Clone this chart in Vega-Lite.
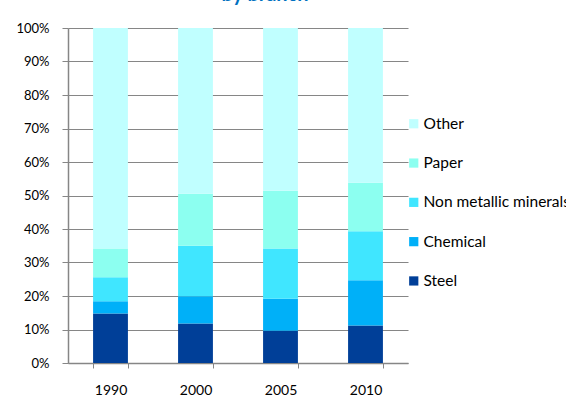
{
  "$schema": "https://vega.github.io/schema/vega-lite/v6.json",
  "width": 340,
  "height": 335,
  "autosize": {"type": "none"},
  "padding": {"left": 68, "top": 28, "right": 158, "bottom": 47},
  "background": "white",
  "title": {
    "text": "by branch",
    "font": "Lato",
    "fontSize": 20,
    "fontWeight": "bold",
    "color": "#0070C0",
    "anchor": "middle",
    "dx": 27,
    "offset": 17
  },
  "data": {
    "values": [
      {"year": "1990", "branch": "Steel", "order": 1, "share": 14.8},
      {"year": "1990", "branch": "Chemical", "order": 2, "share": 3.6},
      {"year": "1990", "branch": "Non metallic minerals", "order": 3, "share": 7.2},
      {"year": "1990", "branch": "Paper", "order": 4, "share": 8.6},
      {"year": "1990", "branch": "Other", "order": 5, "share": 65.8},
      {"year": "2000", "branch": "Steel", "order": 1, "share": 11.8},
      {"year": "2000", "branch": "Chemical", "order": 2, "share": 8.1},
      {"year": "2000", "branch": "Non metallic minerals", "order": 3, "share": 15.1},
      {"year": "2000", "branch": "Paper", "order": 4, "share": 15.5},
      {"year": "2000", "branch": "Other", "order": 5, "share": 49.5},
      {"year": "2005", "branch": "Steel", "order": 1, "share": 9.6},
      {"year": "2005", "branch": "Chemical", "order": 2, "share": 9.6},
      {"year": "2005", "branch": "Non metallic minerals", "order": 3, "share": 15.0},
      {"year": "2005", "branch": "Paper", "order": 4, "share": 17.2},
      {"year": "2005", "branch": "Other", "order": 5, "share": 48.6},
      {"year": "2010", "branch": "Steel", "order": 1, "share": 11.2},
      {"year": "2010", "branch": "Chemical", "order": 2, "share": 13.5},
      {"year": "2010", "branch": "Non metallic minerals", "order": 3, "share": 14.6},
      {"year": "2010", "branch": "Paper", "order": 4, "share": 14.5},
      {"year": "2010", "branch": "Other", "order": 5, "share": 46.2}
    ]
  },
  "mark": {"type": "bar"},
  "encoding": {
    "x": {
      "field": "year",
      "type": "nominal",
      "scale": {"paddingInner": 0.59, "paddingOuter": 0.295},
      "axis": {
        "title": null,
        "labelAngle": 0,
        "tickBand": "extent",
        "labelFont": "Lato",
        "labelFontSize": 14,
        "labelColor": "#000000",
        "labelPadding": 15,
        "domainColor": "#868686",
        "domainWidth": 1.5,
        "tickColor": "#868686",
        "tickSize": 5,
        "grid": false
      }
    },
    "y": {
      "field": "share",
      "type": "quantitative",
      "stack": "zero",
      "scale": {"domain": [0, 100], "nice": false},
      "axis": {
        "title": null,
        "values": [0, 10, 20, 30, 40, 50, 60, 70, 80, 90, 100],
        "labelExpr": "datum.value + '%'",
        "labelFont": "Lato",
        "labelFontSize": 13,
        "labelColor": "#000000",
        "labelPadding": 13,
        "domainColor": "#868686",
        "domainWidth": 1.5,
        "tickColor": "#868686",
        "tickSize": 6,
        "grid": true,
        "gridColor": "#868686",
        "gridWidth": 1.2
      }
    },
    "color": {
      "field": "branch",
      "type": "nominal",
      "scale": {
        "domain": ["Other", "Paper", "Non metallic minerals", "Chemical", "Steel"],
        "range": ["#C0FFFF", "#8CFFF0", "#40E6FF", "#00B0F8", "#003F98"]
      },
      "legend": {
        "title": null,
        "orient": "none",
        "legendX": 338,
        "legendY": 88,
        "symbolType": "square",
        "symbolSize": 85,
        "symbolStrokeWidth": 0,
        "labelFont": "Lato",
        "labelFontSize": 15.5,
        "labelColor": "#000000",
        "labelOffset": 2,
        "rowPadding": 22.3,
        "padding": 0
      }
    },
    "order": {"field": "order", "type": "quantitative"}
  },
  "config": {
    "view": {"stroke": null}
  }
}
